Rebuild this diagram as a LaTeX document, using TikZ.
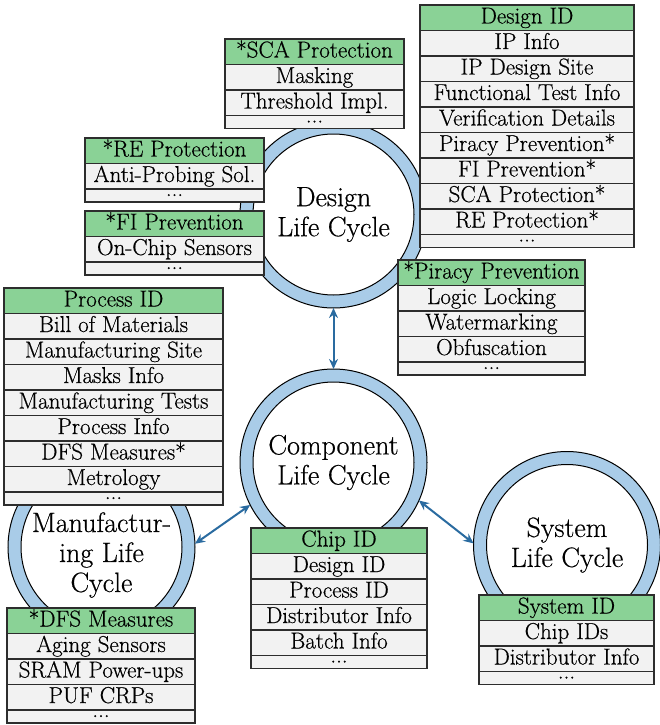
\documentclass[tikz,border=0pt]{standalone}
\usepackage{fontspec}
\setmainfont{Latin Modern Roman}[FakeBold=0.5]
\usetikzlibrary{arrows.meta}
\definecolor{hdrg}{RGB}{138,210,150}
\definecolor{rowg}{RGB}{242,242,242}
\definecolor{ringb}{RGB}{169,204,232}
\definecolor{arrowb}{RGB}{42,107,160}
\definecolor{bordc}{RGB}{45,45,45}
\newcommand\tabf{\rmfamily\fontsize{23}{25}\selectfont}
\newcommand\circf{\rmfamily\fontsize{28}{30}\selectfont}
\newcommand\mktable[7]{%
  \node[hdrbox, minimum width=#3] (#1-0) at (#2,#4) {#5};
  \foreach \t [count=\i] in {#7} {
    \node[rowbox, minimum width=#3] (#1-\i) at (#2,{#4+25.5*\i}) {\t};
  }
  \node[dotbox, minimum width=#3] (#1-dots) at (#2,{#4+25.5*(#6+1)}) {...};
}
\tikzset{
  hdrbox/.style={draw=bordc, line width=1.1pt, fill=hdrg, anchor=north west,
    minimum height=25.5pt, inner sep=0pt, outer sep=0pt,
    text height=16.5pt, text depth=5pt, font=\tabf},
  rowbox/.style={hdrbox, fill=rowg},
  dotbox/.style={hdrbox, fill=rowg, minimum height=13pt, text height=1pt, text depth=0pt},
  ringout/.style={circle, draw=black, line width=1pt, fill=ringb, minimum size=187pt, inner sep=0pt, outer sep=0pt},
  ringin/.style={circle, draw=black, line width=1pt, fill=white, minimum size=161pt, inner sep=0pt},
  lctext/.style={align=center, font=\circf, inner sep=0pt},
  link/.style={arrowb, line width=2pt, {Stealth[length=10pt,width=9pt]}-{Stealth[length=10pt,width=9pt]}}
}
\begin{document}
\begin{tikzpicture}[x=1pt, y=-1pt]
\useasboundingbox (0,0) rectangle (659,725);
% circles
\node[ringout] (design) at (333.5,214.5) {};
\node[ringin] (designin) at (design.center) {};
\node[lctext] (designt) at (333.5,214.5) {Design\\Life Cycle};

\node[ringout] (comp) at (333.5,462.5) {};
\node[ringin] (compin) at (comp.center) {};
\node[lctext] (compt) at (333.5,462.5) {Component\\Life Cycle};

\node[ringout] (manu) at (101.5,547) {};
\node[ringin] (manuin) at (manu.center) {};
\node[lctext] (manut) at (101.5,555) {Manufactur-\\ing Life\\Cycle};

\node[ringout] (sys) at (567,545) {};
\node[ringin] (sysin) at (sys.center) {};
\node[lctext] (syst) at (567,545) {System\\Life Cycle};

% connectors
\draw[link] (design.270) -- (comp.90);
\draw[link] (manu.2) -- (comp.207);
\draw[link] (comp.336) -- (sys.179);

% tables
\mktable{did}{420}{214}{5}{Design ID}{8}{IP Info,IP Design Site,Functional Test Info,Verification Details,Piracy Prevention*,FI Prevention*,SCA Protection*,RE Protection*}
\mktable{sca}{225}{179}{39}{*SCA Protection}{2}{Masking,Threshold Impl.}
\mktable{re}{85}{179}{138}{*RE Protection}{1}{Anti-Probing Sol.}
\mktable{fi}{85}{179}{211}{*FI Prevention}{1}{On-Chip Sensors}
\mktable{pp}{398}{187}{260}{*Piracy Prevention}{3}{Logic Locking,Watermarking,Obfuscation}
\mktable{pid}{4}{219}{288}{Process ID}{7}{Bill of Materials,Manufacturing Site,Masks Info,Manufacturing Tests,Process Info,DFS Measures*,Metrology}
\mktable{dfs}{7}{188}{608}{*DFS Measures}{3}{Aging Sensors,SRAM Power-ups,PUF CRPs}
\mktable{cid}{251}{176}{528}{Chip ID}{4}{Design ID,Process ID,Distributor Info,Batch Info}
\mktable{sid}{479}{175}{595}{System ID}{2}{Chip IDs,Distributor Info}
\end{tikzpicture}
\end{document}
